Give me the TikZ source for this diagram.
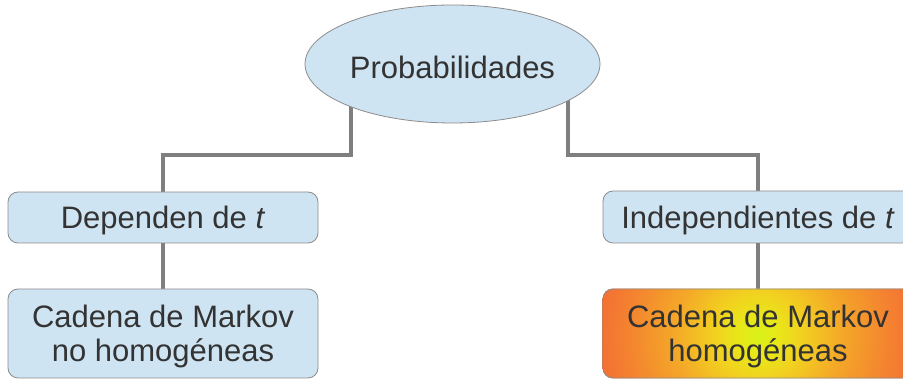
\documentclass[tikz,border=0pt]{standalone}
\usepackage{fontspec}
\setmainfont{Liberation Sans}
\usetikzlibrary{shapes.geometric,backgrounds,calc}
\definecolor{boxfill}{HTML}{CFE4F2}
\definecolor{boxline}{HTML}{8C8C8C}
\definecolor{connc}{HTML}{7F7F7F}
\definecolor{txt}{HTML}{333333}
\definecolor{hc0}{HTML}{D8F018}
\definecolor{hc1}{HTML}{E8E818}
\definecolor{hc2}{HTML}{F2D020}
\definecolor{hc3}{HTML}{F4A828}
\definecolor{hc4}{HTML}{F48030}
\definecolor{hc5}{HTML}{F26038}
\definecolor{hc6}{HTML}{F04C40}
\pgfdeclareradialshading{heat}{\pgfpoint{0bp}{0bp}}{color(0bp)=(hc0); color(3bp)=(hc1); color(7bp)=(hc2); color(13bp)=(hc3); color(21bp)=(hc4); color(29bp)=(hc5); color(37bp)=(hc6); color(50bp)=(hc6)}
\tikzset{
  box/.style={draw=boxline, line width=0.8pt, fill=boxfill, rounded corners=10pt,
    minimum width=310pt, inner sep=0pt},
  oval/.style={ellipse, draw=boxline, line width=0.8pt, fill=boxfill,
    minimum width=295pt, minimum height=118pt, inner sep=0pt},
  lbl/.style={text=txt, align=center, inner sep=0pt,
    font=\fontsize{31}{34}\selectfont},
  conn/.style={draw=connc, line width=4pt}
}
\begin{document}
\begin{tikzpicture}[x=1pt,y=1pt]
\useasboundingbox (0,0) rectangle (903,379);
\clip (0,0) rectangle (903,379);
\node[oval] (ell) at (452.5,315) {};
\node[box, minimum height=51pt] (b1) at (163,161.5) {};
\node[box, minimum height=89pt] (b2) at (163,45.5) {};
\node[box, minimum height=52pt] (b3) at (758,162) {};
\node[box, fill=none, minimum height=89pt] (b4) at (758,45.5) {};
\node[lbl] (t0) at ($(ell.center)+(0,-3)$) {Probabilidades};
\node[lbl] (t1) at ($(b1.center)+(0,-3)$) {Dependen de \textit{t}};
\node[lbl] (t2) at ($(b2.center)+(0,-3)$) {Cadena de Markov\\no homogéneas};
\node[lbl] (t3) at ($(b3.center)+(0,-3)$) {Independientes de \textit{t}};
\node[lbl] (t4) at ($(b4.center)+(0,-3)$) {Cadena de Markov\\homogéneas};
\begin{pgfonlayer}{background}
  \draw[conn] ([xshift=-102pt]ell.center) |- ($(b1.north)+(0,37)$) -- (b1.north);
  \draw[conn] ([xshift=115pt]ell.center) |- ($(b3.north)+(0,36)$) -- (b3.north);
  \draw[conn] (b1.south) -- (b2.north);
  \draw[conn] (b3.south) -- (b4.north);
  \begin{scope}
    \clip[rounded corners=10pt] (b4.south west) rectangle (b4.north east);
    \shade[shading=heat] ($(b4.center)+(-160,-162)$) rectangle ($(b4.center)+(160,158)$);
  \end{scope}
\end{pgfonlayer}
\end{tikzpicture}
\end{document}
